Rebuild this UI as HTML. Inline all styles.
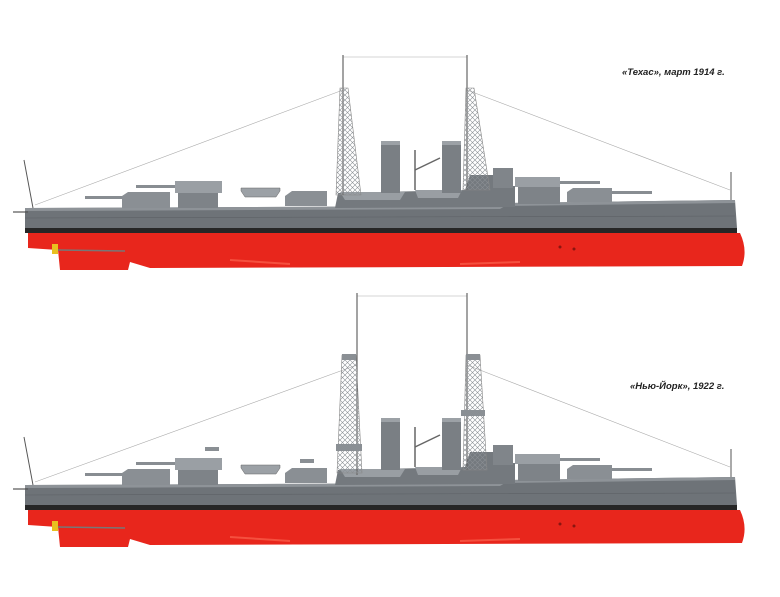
<!DOCTYPE html>
<html><head><meta charset="utf-8"><style>
html,body{margin:0;padding:0;background:#fff;}
svg{display:block}
text{font-family:"Liberation Sans",sans-serif;font-weight:bold;font-style:italic;font-size:9.5px;fill:#222}
</style></head><body>
<svg width="780" height="597" viewBox="0 0 780 597" xmlns="http://www.w3.org/2000/svg">
<defs>
<pattern id="lat" width="5" height="5" patternUnits="userSpaceOnUse">
<path d="M0 0L5 5M5 0L0 5" stroke="#8a8f94" stroke-width="0.6"/>
</pattern>
<g id="ship">
<!-- red hull -->
<path d="M28 233 L740 233 Q748 250 742 266 L150 268 L130 262 L128 270 L60 270 L58 250 L28 248 Z" fill="#e8261c"/>
<path d="M230 260 L290 264 M460 264 L520 262" stroke="#f5503f" stroke-width="2"/>
<circle cx="560" cy="247" r="1.5" fill="#8a1510"/><circle cx="574" cy="249" r="1.5" fill="#8a1510"/>
<!-- propeller -->
<rect x="52" y="244" width="6" height="10" fill="#e8c020"/>
<line x1="58" y1="250" x2="125" y2="251" stroke="#777" stroke-width="1.5"/>
<!-- black stripe -->
<rect x="25" y="228" width="712" height="5" fill="#262626"/>
<!-- gray hull -->
<path d="M25 208 L500 206 L505 203 L735 200 L737 228 L25 228 Z" fill="#6e7378"/>
<path d="M25 208 L500 206 L505 203 L735 200 L735 203 L505 206 L500 209 L25 211Z" fill="#8e9398"/>
<line x1="25" y1="218" x2="735" y2="216" stroke="#5d6166" stroke-width="0.6"/>
<line x1="13" y1="212" x2="28" y2="212" stroke="#555" stroke-width="1.2"/>
<!-- staffs -->
<line x1="24" y1="160" x2="33" y2="208" stroke="#555" stroke-width="1"/>
<line x1="731" y1="172" x2="731" y2="200" stroke="#555" stroke-width="1"/>
<!-- turret 1 -->
<rect x="85" y="196" width="45" height="3" fill="#888d92"/>
<path d="M122 208 L122 196 L128 192 L170 192 L170 208Z" fill="#8a8f94"/>
<!-- turret 2 -->
<rect x="136" y="185" width="44" height="3" fill="#888d92"/>
<rect x="175" y="181" width="47" height="12" fill="#9a9fa4"/>
<rect x="178" y="193" width="40" height="15" fill="#7e8388"/>
<!-- boat -->
<path d="M241 188 L280 188 L280 191 L276 197 L245 197 L241 191Z" fill="#9ca1a6" stroke="#666" stroke-width="0.5"/>
<!-- turret 3 -->
<path d="M285 206 L285 196 L292 191 L327 191 L327 206Z" fill="#8a8f94"/>
<!-- superstructure -->
<path d="M335 208 L338 193 L465 190 L470 175 L505 175 L505 186 L515 186 L515 207Z" fill="#74797e"/>
<path d="M340 192 L405 192 L400 200 L345 200Z" fill="#999ea3"/>
<path d="M415 190 L462 190 L458 198 L418 198Z" fill="#999ea3"/>
<rect x="493" y="168" width="20" height="20" fill="#80858a"/>
<!-- funnels -->
<rect x="381" y="141" width="19" height="52" fill="#7a7f84"/>
<rect x="381" y="141" width="19" height="4" fill="#9ca1a6"/>
<rect x="442" y="141" width="19" height="52" fill="#7a7f84"/>
<rect x="442" y="141" width="19" height="4" fill="#9ca1a6"/>
<line x1="415" y1="190" x2="415" y2="150" stroke="#666" stroke-width="1.5"/>
<line x1="415" y1="170" x2="440" y2="158" stroke="#666" stroke-width="1.5"/>
<!-- turret 4 -->
<rect x="560" y="181" width="40" height="3" fill="#888d92"/>
<rect x="515" y="177" width="45" height="10" fill="#9a9fa4"/>
<rect x="518" y="187" width="42" height="17" fill="#7e8388"/>
<!-- turret 5 -->
<rect x="612" y="191" width="40" height="3" fill="#888d92"/>
<path d="M567 202 L567 192 L573 188 L612 188 L612 202Z" fill="#8a8f94"/>
</g>
</defs>

<text x="622" y="75">«Техас», март 1914 г.</text>
<text x="630" y="389">«Нью-Йорк», 1922 г.</text>

<!-- ship 1 -->
<use href="#ship"/>
<g stroke="#aaa" stroke-width="0.6" fill="none">
<line x1="343" y1="57" x2="467" y2="57"/>
<line x1="343" y1="90" x2="35" y2="205"/>
<line x1="467" y1="90" x2="730" y2="190"/>
</g>
<line x1="343" y1="55" x2="343" y2="195" stroke="#666" stroke-width="1.2"/>
<line x1="467" y1="55" x2="467" y2="190" stroke="#666" stroke-width="1.2"/>
<path d="M336 195 L340 88 L348 88 L361 195Z" fill="url(#lat)" stroke="#888" stroke-width="0.6"/>
<path d="M463 190 L466 88 L474 88 L490 190Z" fill="url(#lat)" stroke="#888" stroke-width="0.6"/>

<!-- ship 2 -->
<use href="#ship" y="277"/>
<g stroke="#aaa" stroke-width="0.6" fill="none">
<line x1="357" y1="296" x2="467" y2="296"/>
<line x1="357" y1="365" x2="35" y2="482"/>
<line x1="467" y1="365" x2="730" y2="467"/>
</g>
<line x1="357" y1="293" x2="357" y2="475" stroke="#666" stroke-width="1.2"/>
<line x1="467" y1="293" x2="467" y2="470" stroke="#666" stroke-width="1.2"/>
<path d="M337 473 L342 355 L356 355 L362 473Z" fill="url(#lat)" stroke="#888" stroke-width="0.6"/>
<path d="M463 470 L466 355 L480 355 L487 470Z" fill="url(#lat)" stroke="#888" stroke-width="0.6"/>
<rect x="342" y="354" width="14" height="6" fill="#8a8f94"/>
<rect x="466" y="354" width="14" height="6" fill="#8a8f94"/>
<rect x="336" y="444" width="26" height="7" fill="#8a8f94"/>
<rect x="461" y="410" width="24" height="6" fill="#8a8f94"/>
<rect x="205" y="447" width="14" height="4" fill="#8a8f94"/>
<rect x="300" y="459" width="14" height="4" fill="#8a8f94"/>
</svg>
</body></html>
